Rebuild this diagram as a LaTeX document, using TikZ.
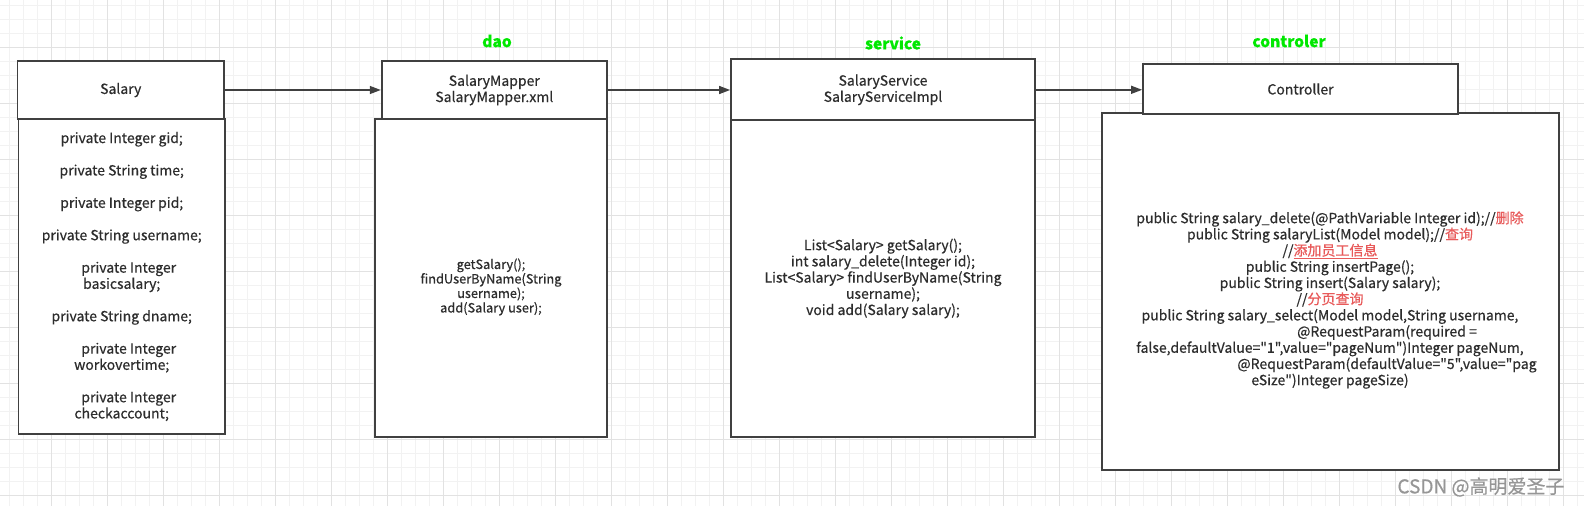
\documentclass[tikz,border=0pt]{standalone}
\usepackage{fontspec}
\setmainfont{Noto Sans CJK SC}[Ligatures=TeXOff,FakeBold=0.5]
\usetikzlibrary{arrows.meta}
\definecolor{gridminor}{RGB}{242,242,242}
\definecolor{gridmajor}{RGB}{226,226,226}
\definecolor{boxline}{RGB}{64,64,64}
\definecolor{textgray}{RGB}{45,45,45}
\definecolor{layergreen}{RGB}{0,232,0}
\definecolor{notered}{RGB}{232,90,90}
\definecolor{wmgray}{RGB}{150,150,150}
\newcommand{\cmt}[1]{\textcolor{notered}{#1}}
\begin{document}
\begin{tikzpicture}[x=1pt,y=-1pt,
  box/.style={draw=boxline,line width=1.8pt,fill=white,inner sep=0pt},
  txt/.style={text=textgray,align=center,font=\fontsize{14}{16.2}\selectfont},
  layer/.style={text=layergreen,font=\fontsize{15.5}{17}\selectfont\bfseries},
  flow/.style={draw=boxline,line width=1.4pt,-{Triangle[length=11pt,width=8pt]}}]
\useasboundingbox (0,0) rectangle (1584,506);
\fill[white] (0,0) rectangle (1584,506);
% grid
\foreach \x in {9.7,23.7,...,1584} \draw[gridminor,line width=0.9pt] (\x,0) -- (\x,506);
\foreach \y in {5.7,19.7,...,506} \draw[gridminor,line width=0.9pt] (0,\y) -- (1584,\y);
\foreach \x in {51.7,107.7,...,1584} \draw[gridmajor,line width=0.9pt] (\x,0) -- (\x,506);
\foreach \y in {47.7,103.7,...,506} \draw[gridmajor,line width=0.9pt] (0,\y) -- (1584,\y);
% layer names
\node[layer] (daolabel) at (497,41) {dao};
\node[layer] (servlabel) at (893,43) {service};
\node[layer] (ctrllabel) at (1289,41) {controler};
% Salary
\node[box,txt,minimum width=206.5pt,minimum height=315pt] (salarybody) at (121.75,276.5)
  {private Integer gid;\\[16.2pt]
   private String time;\\[16.2pt]
   private Integer pid;\\[16.2pt]
   private String username;\\[16.2pt]
   \hspace*{14pt}private Integer\\ basicsalary;\\[16.2pt]
   private String dname;\\[16.2pt]
   \hspace*{14pt}private Integer\\ workovertime;\\[16.2pt]
   \hspace*{14pt}private Integer\\ checkaccount;};
\node[box,txt,minimum width=206.5pt,minimum height=58pt] (salaryhead) at (120.75,90) {Salary};
% dao
\node[box,minimum width=232pt,minimum height=318pt] (daobody) at (491,278) {};
\node[box,txt,minimum width=225.3pt,minimum height=58pt] (daohead) at (494.3,90) {SalaryMapper\\SalaryMapper.xml};
\node[txt,font=\fontsize{12.8}{14.5}\selectfont] (daotext) at (491,287)
  {getSalary();\\ findUserByName(String\\ username);\\ add(Salary user);};
% service
\node[box,txt,minimum width=304pt,minimum height=317pt] (servbody) at (883,278.5)
  {List<Salary> getSalary();\\
   int salary\_delete(Integer id);\\
   List<Salary> findUserByName(String\\
   username);\\
   void add(Salary salary);};
\node[box,txt,minimum width=304pt,minimum height=61pt] (servhead) at (883,89.8) {SalaryService\\SalaryServiceImpl};
% controller
\node[box,minimum width=457pt,minimum height=357pt] (ctrlbody) at (1330.5,291.5) {};
\node[box,txt,minimum width=315pt,minimum height=50pt] (ctrlhead) at (1300.5,89) {Controller};
\node[txt] (ctrltext) at (1330,300)
  {public String salary\_delete(@PathVariable Integer id);//\cmt{删除}\\
   public String salaryList(Model model);//\cmt{查询}\\
   //\cmt{\underline{添加员工信息}}\\
   public String insertPage();\\
   public String insert(Salary salary);\\
   //\cmt{分页查询}\\
   public String salary\_select(Model model,String username,\\
   \hspace*{114pt}@RequestParam(required =\\
   false,defaultValue="1",value="pageNum")Integer pageNum,\\
   \hspace*{114pt}@RequestParam(defaultValue="5",value="pag\\
   eSize")Integer pageSize)};
% arrows
\draw[flow] (salaryhead) -- (daohead);
\draw[flow] (daohead.east) -- (daohead.east -| servhead.west);
\draw[flow] (servhead.east) -- (servhead.east -| ctrlhead.west);
\node[anchor=east,text=wmgray,font=\fontsize{19}{21}\selectfont] (wm) at (1568,487) {CSDN @高明爱圣子};
\end{tikzpicture}
\end{document}
